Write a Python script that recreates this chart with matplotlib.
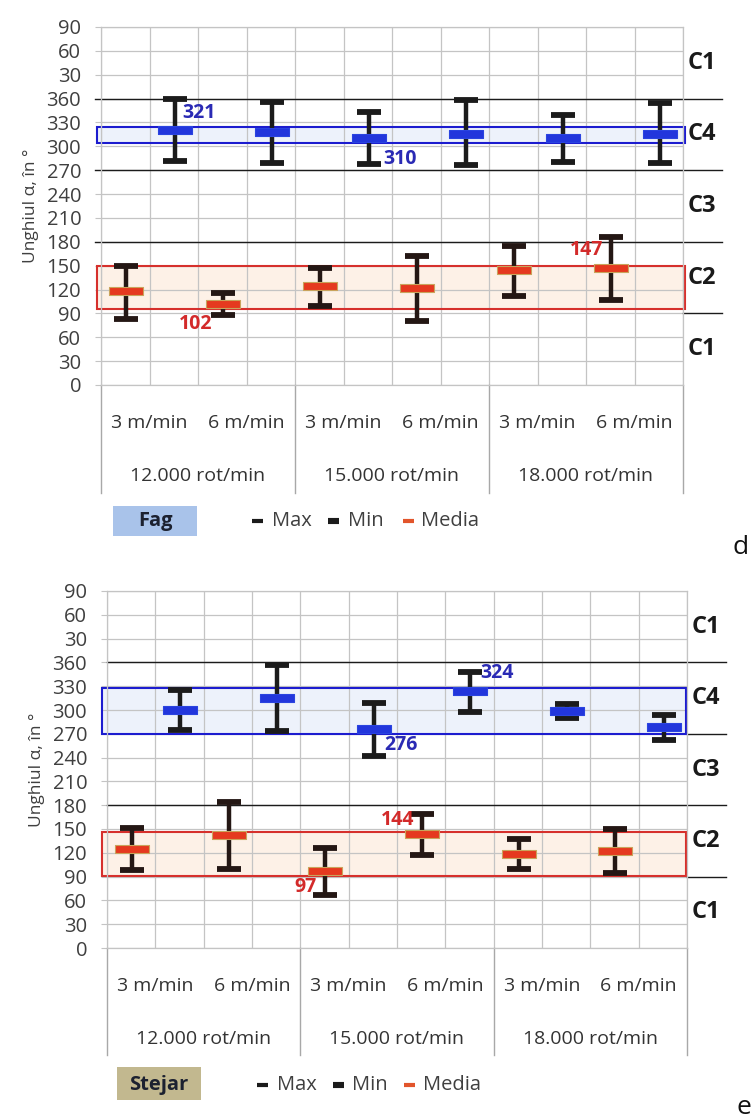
import matplotlib
matplotlib.use("Agg")
import matplotlib.pyplot as plt
from matplotlib.patches import Rectangle
from matplotlib.lines import Line2D
import numpy as np

W, H = 751, 1119

# ---- shared axis content -------------------------------------------------
speeds = ["3 m/min", "6 m/min", "3 m/min", "6 m/min", "3 m/min", "6 m/min"]
rotations = ["12.000 rot/min", "15.000 rot/min", "18.000 rot/min"]
angle_ticks = list(range(0, 451, 30))
angle_tick_labels = ["0", "30", "60", "90", "120", "150", "180", "210", "240",
                     "270", "300", "330", "360", "30", "60", "90"]
zone_names = ["C1", "C2", "C3", "C4", "C1"]
zone_centres = [45, 135, 225, 315, 405]

# ---- Fag (beech) -------------------------------------------------------
fag_c2_max = [150, 116, 147, 162, 175, 186]
fag_c2_min = [83, 88, 99, 81, 112, 107]
fag_c2_mean = [118, 102, 124, 122, 145, 147]
fag_c4_max = [359, 356, 343, 358, 339, 354]
fag_c4_min = [282, 279, 278, 276, 280, 279]
fag_c4_mean = [321, 318, 310, 316, 311, 316]
fag_c2_band = [95, 150]
fag_c4_band = [304, 324]

# ---- Stejar (oak) ------------------------------------------------------
stejar_c2_max = [151, 184, 126, 169, 137, 150]
stejar_c2_min = [98, 100, 67, 117, 100, 95]
stejar_c2_mean = [125, 142, 97, 144, 119, 122]
stejar_c4_max = [325, 357, 309, 348, 307, 294]
stejar_c4_min = [275, 273, 242, 297, 290, 262]
stejar_c4_mean = [300, 315, 276, 324, 299, 279]
stejar_c2_band = [91, 146]
stejar_c4_band = [270, 328]

GRID = "#c4c4c4"
TXT = "#3f3f3f"
RED_FILL, RED_EDGE = "#e5391f", "#c9a45c"
BLUE_FILL, BLUE_EDGE = "#2236dc", "#2a44e0"
BAR_INK = "#1b1b1b"
FONT = "Open Sans"

fig = plt.figure(figsize=(W / 100, H / 100), dpi=100)


def fx(px):
    return px / W


def fy(py):
    return 1 - py / H


mean_marker = [(-1, -0.23), (1, -0.23), (1, 0.23), (-1, 0.23), (-1, -0.23)]


def draw_panel(box_px, c2, c4, c2_band, c4_band, band_x, full_lines, right_lines,
               full_start, labels, table_depth):
    left, top, right, bottom = box_px
    ax = fig.add_axes([fx(left), fy(bottom), fx(right - left), (bottom - top) / H])
    ax.set_xlim(-0.5, 5.5)
    ax.set_ylim(0, 450)
    ax.set_axisbelow(True)

    ax.set_yticks(angle_ticks)
    ax.set_yticklabels(angle_tick_labels, fontsize=14.5, color=TXT, family=FONT)
    ax.tick_params(axis="y", length=4.3, width=0.8, color=GRID, pad=10)
    ax.set_xticks([])
    ax.set_xticks(np.arange(-0.5, 5.51, 0.5), minor=True)
    ax.tick_params(axis="x", which="both", length=0, labelbottom=False)
    ax.grid(axis="y", which="major", color=GRID, lw=0.9)
    ax.grid(axis="x", which="minor", color=GRID, lw=0.9)
    for s in ax.spines.values():
        s.set_color(GRID)
        s.set_linewidth(0.9)

    # shaded bands around the mean values of each zone
    for band, fill, edge in ((c2_band, "#fdf1e7", "#d6302c"),
                             (c4_band, "#edf2fb", "#1c1ccf")):
        x0, x1 = band_x
        ax.add_patch(Rectangle((x0, band[0]), x1 - x0, band[1] - band[0],
                               facecolor=fill, edgecolor="none", zorder=0.2,
                               clip_on=False))
        ax.add_patch(Rectangle((x0, band[0]), x1 - x0, band[1] - band[0],
                               facecolor="none", edgecolor=edge, lw=1.5, zorder=2.5,
                               clip_on=False))

    # zone borders
    for v in full_lines:
        ax.plot([full_start, 5.9], [v, v], color=BAR_INK, lw=1.0, zorder=1.5,
                clip_on=False)
    for v in right_lines:
        ax.plot([5.5, 5.9], [v, v], color=BAR_INK, lw=1.0, zorder=1.5,
                clip_on=False)
    for name, yc in zip(zone_names, zone_centres):
        ax.text(5.55, yc, name, fontsize=17, fontweight="bold", color="#1a1a1a",
                family=FONT, va="center", ha="left")

    # min / max ranges with means
    x = np.arange(len(speeds))
    series = {}
    for key, (mx, mn, me), dx, fc, ec, ink in (
            ("c2", c2, -0.24, RED_FILL, RED_EDGE, "#241714"),
            ("c4", c4, 0.26, BLUE_FILL, BLUE_EDGE, BAR_INK)):
        xs = x + dx
        mx, mn, me = np.array(mx), np.array(mn), np.array(me)
        mid = (mx + mn) / 2
        ax.errorbar(xs, mid, yerr=(mx - mn) / 2, fmt="none", ecolor=ink,
                    elinewidth=3.2, capsize=8.3, capthick=4.2, zorder=3)
        ax.plot(xs, me, ls="none", marker=mean_marker, markersize=25,
                markerfacecolor=fc, markeredgecolor=ec, markeredgewidth=0.8,
                zorder=4)
        series[key] = (xs, me)

    for key, i, dxp, dyp, ha in labels:
        xs, me = series[key]
        col = "#d32a2a" if key == "c2" else "#2a2ab4"
        ax.annotate(f"{me[i]:d}", (xs[i], me[i]), xytext=(dxp, dyp),
                    textcoords="offset points", ha=ha, va="center",
                    fontsize=14, fontweight="bold", color=col, family=FONT,
                    zorder=5)

    # category table below the plot
    for i, s in enumerate(speeds):
        ax.text(i, -48, s, ha="center", va="center", fontsize=14, color="#333333",
                family=FONT, clip_on=False)
    for g, r in enumerate(rotations):
        ax.text(2 * g + 0.5, -115, r, ha="center", va="center", fontsize=14,
                color="#333333", family=FONT, clip_on=False)
    for xd in (-0.5, 1.5, 3.5, 5.5):
        ax.plot([xd, xd], [0, -table_depth], color="#a8a8a8", lw=1.0,
                clip_on=False, zorder=1)
    ax.set_ylabel("Unghiul α, în °", fontsize=12.5, color=TXT, family=FONT,
                  labelpad=5)
    return ax


ax_top = draw_panel(
    (101, 27, 683, 385),
    (fag_c2_max, fag_c2_min, fag_c2_mean),
    (fag_c4_max, fag_c4_min, fag_c4_mean),
    fag_c2_band, fag_c4_band, (-0.54, 5.52),
    full_lines=[360, 270, 180], right_lines=[90], full_start=-0.56,
    labels=[("c4", 0, 5.8, 12, "left"), ("c2", 1, -20, -14.5, "center"),
            ("c4", 2, 10.8, -15, "left"), ("c2", 5, -5.8, 13, "right")],
    table_depth=136)

ax_bot = draw_panel(
    (107, 591, 687, 948),
    (stejar_c2_max, stejar_c2_min, stejar_c2_mean),
    (stejar_c4_max, stejar_c4_min, stejar_c4_mean),
    stejar_c2_band, stejar_c4_band, (-0.55, 5.49),
    full_lines=[360, 180], right_lines=[270, 90], full_start=-0.5,
    labels=[("c2", 2, -6.5, -11.5, "right"), ("c4", 2, 7.2, -11.5, "left"),
            ("c2", 3, -5.8, 10, "right"), ("c4", 3, 7.2, 13, "left")],
    table_depth=135)


# ---- legends -----------------------------------------------------------
def legend(y, x_box, wood, wood_color, x_items):
    x0, x1, y0, y1 = x_box
    fig.add_artist(Rectangle((fx(x0), fy(y1)), fx(x1 - x0), (y1 - y0) / H,
                             transform=fig.transFigure, facecolor=wood_color,
                             edgecolor="none"))
    fig.text(fx((x0 + x1) / 2), fy(y), wood, ha="center", va="center",
             fontsize=14.5, fontweight="bold", color="#1c2130", family=FONT)
    for (mx, tx), label, col, lw in zip(
            x_items, ["Max", "Min", "Media"],
            [BAR_INK, BAR_INK, "#e2552b"], [3.0, 4.4, 3.0]):
        fig.add_artist(Line2D([fx(mx), fx(mx + 11)], [fy(y), fy(y)],
                              transform=fig.transFigure, color=col, lw=lw,
                              solid_capstyle="butt"))
        fig.text(fx(tx), fy(y), label, ha="left", va="center", fontsize=14.5,
                 color=TXT, family=FONT)


legend(521, (113, 197, 506, 536), "Fag", "#a9c3ea",
       [(252, 272), (328, 348), (403, 421)])
legend(1085, (117, 201, 1067, 1100), "Stejar", "#c2b88f",
       [(257, 277), (333, 352), (404, 423)])

fig.text(fx(741), fy(547), "d", ha="center", va="center", fontsize=19,
         color="#111111", family=FONT)
fig.text(fx(744), fy(1108), "e", ha="center", va="center", fontsize=19,
         color="#111111", family=FONT)

fig.savefig("out.png", dpi=100)
